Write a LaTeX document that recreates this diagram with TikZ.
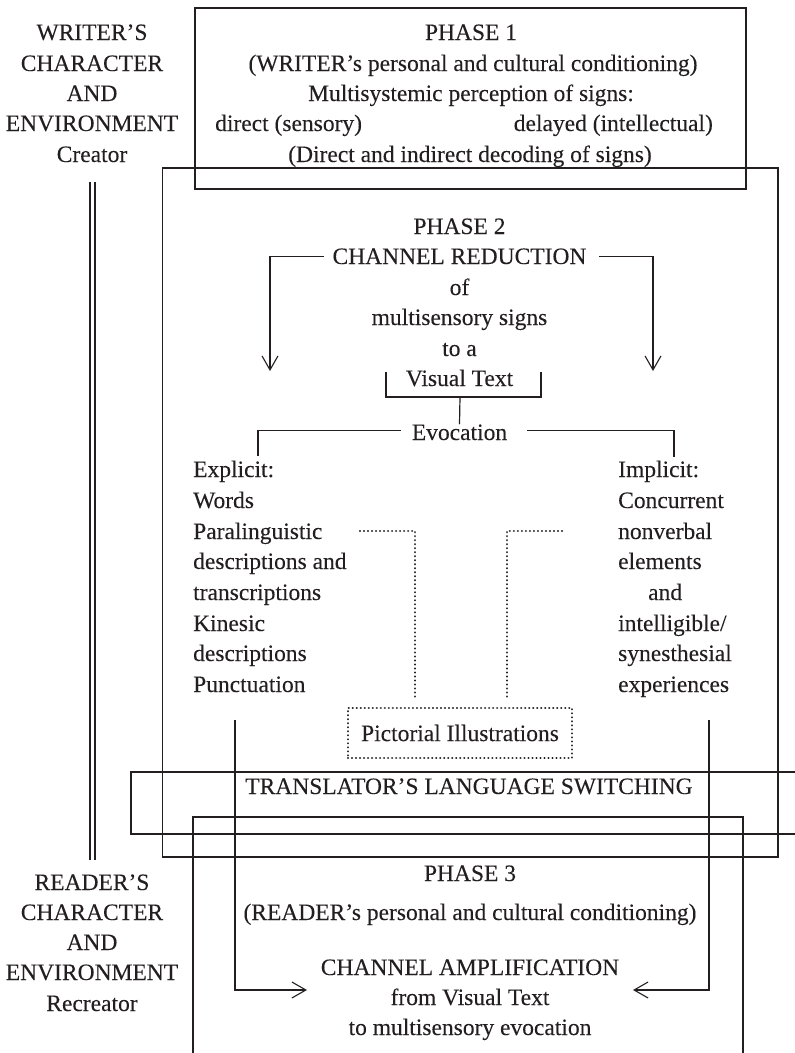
\documentclass[tikz,border=0pt]{standalone}
\usepackage{fontspec}
\setmainfont[UprightFeatures={FakeBold=0.12}]{Liberation Serif}
\usetikzlibrary{arrows.meta,calc}
\definecolor{ink}{RGB}{35,31,32}
\newcommand\fsz{\fontsize{23.5}{30.5}\selectfont}
\begin{document}
\begin{tikzpicture}[x=1pt,y=-1pt,
  every node/.style={inner sep=0pt,text=ink},
  txt/.style={font=\fsz,anchor=base},
  txl/.style={font=\fsz,anchor=base west},
  rule/.style={draw=ink,line width=1.2pt},
  dotline/.style={draw=ink,line width=2.3pt,dash pattern=on 0.01pt off 4pt,line cap=round},
  arr/.style={rule,-{Straight Barb[length=14pt,width=16pt,line width=1.1pt]}}]
\useasboundingbox (0,0) rectangle (795,1053);

% ---- frames ----
\draw[rule] (195,8) rectangle (746,189);            % phase 1
\draw[rule] (162.5,168) rectangle (778,857);        % phase 2
\draw[rule] (800,772) -- (131,772) -- (131,834) -- (800,834); % translator band
\draw[rule] (193,1060) -- (193,817) -- (743,817) -- (743,1060); % phase 3
\draw[rule] (90,182) -- (90,860);
\draw[rule] (95,182) -- (95,860);

% ---- writer / reader side labels ----
\node[txt] (w1) at (92,40)  {WRITER’S};
\node[txt] (w2) at (92,71)  {CHARACTER};
\node[txt] (w3) at (92,101) {AND};
\node[txt] (w4) at (92,131) {ENVIRONMENT};
\node[txt] (w5) at (92,162) {Creator};

\node[txt] (r1) at (92,890)  {READER’S};
\node[txt] (r2) at (92,920)  {CHARACTER};
\node[txt] (r3) at (92,950)  {AND};
\node[txt] (r4) at (92,980)  {ENVIRONMENT};
\node[txt] (r5) at (92,1011) {Recreator};

% ---- phase 1 ----
\node[txt] (p1)  at (471,40)  {PHASE 1};
\node[txt] (p1a) at (473,71)  {(WRITER’s personal and cultural conditioning)};
\node[txt] (p1b) at (471,101) {Multisystemic perception of signs:};
\node[txl] (p1c) at (215,131) {direct (sensory)};
\node[txt,anchor=base east] (p1d) at (713,131) {delayed (intellectual)};
\node[txt] (p1e) at (470,162) {(Direct and indirect decoding of signs)};

% ---- phase 2 ----
\node[txt] (p2)  at (459.5,234) {PHASE 2};
\node[txt] (red) at (459.5,264) {CHANNEL REDUCTION};
\node[txt] (of)  at (459.5,295) {of};
\node[txt] (ms)  at (459.5,325) {multisensory signs};
\node[txt] (toa) at (459.5,356) {to a};
\node[txt] (vis) at (459.5,386) {Visual Text};
\node[txt] (evo) at (459.5,440) {Evocation};

\coordinate (tipA) at (270,371);
\coordinate (tipB) at (653,371);
\draw[arr] ($(red.west)+(-8,0)$) -| (tipA);
\draw[arr] ($(red.east)+(12,0)$) -| (tipB);

\coordinate (brL) at (386,372);
\coordinate (brR) at (541,372);
\coordinate (brM) at (460,397);
\draw[rule] (brL) |- (brM) -| (brR);
\draw[rule] (brM) -- (evo.north);

\coordinate (exT) at (258,456);
\coordinate (imT) at (674,457);
\draw[rule] ($(evo.west)+(-11,-2)$) -| (exT);
\draw[rule] ($(evo.east)+(20,-2)$) -| (imT);

% explicit column
\node[txl] (e0) at (193,477) {Explicit:};
\node[txl] (e1) at (193,508) {Words};
\node[txl] (e2) at (193,539) {Paralinguistic};
\node[txl] (e3) at (193,569) {descriptions and};
\node[txl] (e4) at (193,600) {transcriptions};
\node[txl] (e5) at (193,631) {Kinesic};
\node[txl] (e6) at (193,661) {descriptions};
\node[txl] (e7) at (193,692) {Punctuation};

% implicit column
\node[txl] (i0) at (618,477) {Implicit:};
\node[txl] (i1) at (618,508) {Concurrent};
\node[txl] (i2) at (618,539) {nonverbal};
\node[txl] (i3) at (618,569) {elements};
\node[txl] (i4) at (648,600) {and};
\node[txl] (i5) at (618,631) {intelligible/};
\node[txl] (i6) at (618,661) {synesthesial};
\node[txl] (i7) at (618,692) {experiences};

% pictorial illustrations
\node[font=\fsz,dotline,minimum width=224pt,minimum height=50pt] (pic) at (460,733) {Pictorial Illustrations};
\coordinate (dA) at (360,531);
\coordinate (dB) at (415,697);
\coordinate (dC) at (562,531);
\coordinate (dD) at (507,697);
\draw[dotline] (dA) -| (dB);
\draw[dotline] (dC) -| (dD);

% ---- translator ----
\node[txt] (tr) at (469,794) {TRANSLATOR’S LANGUAGE SWITCHING};

% ---- phase 3 ----
\node[txt] (p3)  at (470,881)  {PHASE 3};
\node[txt] (p3a) at (470,920)  {(READER’s personal and cultural conditioning)};
\node[txt] (amp) at (470,975)  {CHANNEL AMPLIFICATION};
\node[txt] (fvt) at (470,1005) {from Visual Text};
\node[txt] (tme) at (470,1035) {to multisensory evocation};

\coordinate (lsA) at (235,720);
\coordinate (lsB) at (307,990);
\coordinate (rsA) at (709,720);
\coordinate (rsB) at (633,990);
\draw[arr] (lsA) |- (lsB);
\draw[arr] (rsA) |- (rsB);
\end{tikzpicture}
\end{document}
